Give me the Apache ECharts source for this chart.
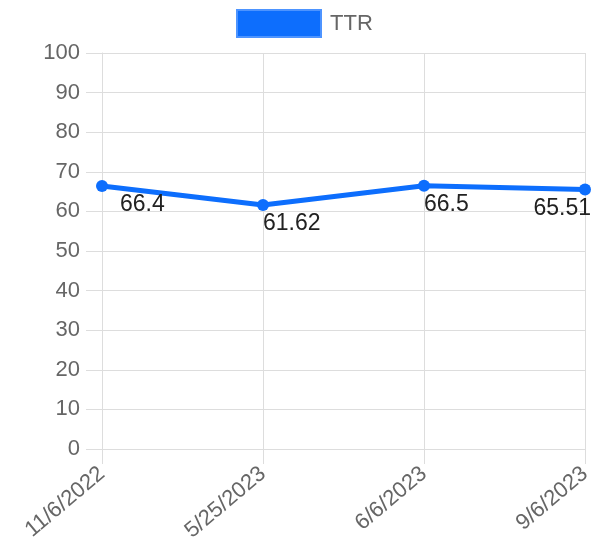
<!DOCTYPE html>
<html>
<head>
<meta charset="utf-8">
<script src="https://cdn.jsdelivr.net/npm/echarts@6/dist/echarts.min.js"></script>
<style>
  html, body { margin: 0; padding: 0; background: #fff; }
  #chart { width: 599px; height: 551px; }
</style>
</head>
<body>
<div id="chart"></div>
<script>
// data
const dates = ['11/6/2022', '5/25/2023', '6/6/2023', '9/6/2023']
const ttr = [66.4, 61.62, 66.5, 65.51]
const yTicks = { min: 0, max: 100, interval: 10 }

const blue = '#0d6efd'
const grey = '#666666'
const gridColor = '#dddddd'
const font = 'Arial, "Liberation Sans", sans-serif'

// last label sits inside the chart, the others hang right of the point
const points = ttr.map((v, i) => ({
  value: v,
  label: i === ttr.length - 1
    ? { align: 'right', offset: [6, 19] }
    : { align: 'left', offset: [i === 0 ? 18 : 0, 19] }
}))

const chart = echarts.init(document.getElementById('chart'))
chart.setOption({
  animation: false,
  legend: {
    top: 9,
    left: 236,
    padding: 0,
    itemWidth: 84,
    itemHeight: 27,
    itemGap: 10,
    icon: 'rect',
    textStyle: { color: grey, fontSize: 22, fontFamily: font, padding: [0, 0, 0, 4] },
    data: [{ name: 'TTR', itemStyle: { color: blue, borderColor: '#4d94ff', borderWidth: 2 } }]
  },
  grid: {
    left: 102,
    right: 14,
    top: 53,
    bottom: 102
  },
  xAxis: {
    type: 'category',
    data: dates,
    boundaryGap: false,
    axisLine: { show: true, lineStyle: { color: gridColor } },
    axisTick: { show: true, length: 15, lineStyle: { color: gridColor } },
    splitLine: { show: true, lineStyle: { color: gridColor } },
    axisLabel: {
      rotate: 40,
      margin: 22,
      color: grey,
      fontSize: 22,
      fontFamily: font
    }
  },
  yAxis: {
    type: 'value',
    min: yTicks.min,
    max: yTicks.max,
    interval: yTicks.interval,
    axisLine: { show: true, lineStyle: { color: gridColor } },
    axisTick: { show: true, length: 16, lineStyle: { color: gridColor } },
    splitLine: { show: true, lineStyle: { color: gridColor } },
    axisLabel: {
      margin: 22,
      color: grey,
      fontSize: 22,
      fontFamily: font
    }
  },
  series: [
    {
      name: 'TTR',
      type: 'line',
      data: points,
      color: blue,
      symbol: 'circle',
      symbolSize: 12,
      lineStyle: { width: 5, color: blue },
      itemStyle: { color: blue },
      label: {
        show: true,
        position: 'inside',
        verticalAlign: 'middle',
        color: '#222',
        fontSize: 23,
        fontFamily: font
      }
    }
  ]
})
</script>
</body>
</html>
